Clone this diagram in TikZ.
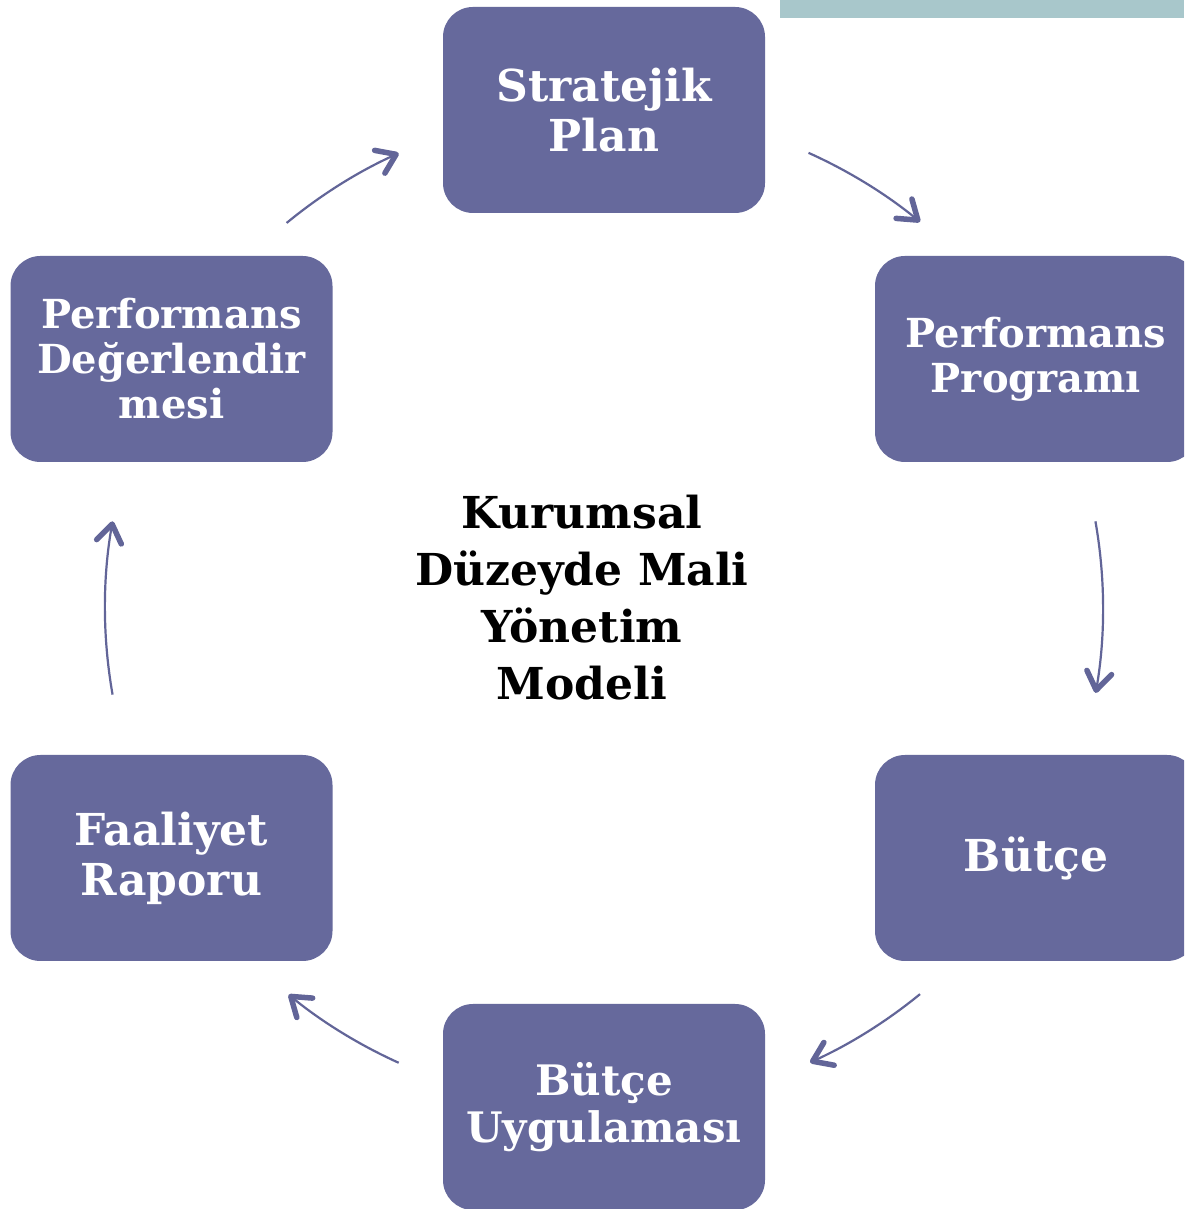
\documentclass[tikz,border=0pt]{standalone}
\usepackage{fontspec}
\setmainfont{DejaVu Serif}
\usetikzlibrary{arrows.meta}
\definecolor{boxc}{RGB}{102,105,156}
\definecolor{arrc}{RGB}{98,101,152}
\definecolor{tealc}{RGB}{168,199,203}
\tikzset{
  stepbox/.style={fill=boxc, draw=none, rounded corners=30pt, minimum width=322pt, minimum height=206pt, inner sep=0pt, text=white, align=center},
  fbig/.style={font=\fontsize{44pt}{50pt}\selectfont\bfseries},
  fmid/.style={font=\fontsize{42pt}{47pt}\selectfont\bfseries},
  fsmall/.style={font=\fontsize{40pt}{45pt}\selectfont\bfseries},
  cyc/.style={draw=arrc, line width=2.2pt, -{Straight Barb[length=18pt,width=25pt,line width=5.5pt,round]}}
}
\begin{document}
\begin{tikzpicture}[x=1pt,y=1pt]
\clip (0,0) rectangle (1184,1209);
\fill[white] (0,0) rectangle (1184,1209);
\fill[tealc] (780,1191) rectangle (1184,1209);
\node[stepbox,fbig] (sp) at (604,1099) {Stratejik\\Plan};
\node[stepbox,fsmall] (pp) at (1036,850) {Performans\\Programı};
\node[stepbox,fbig] (bu) at (1036,351) {Bütçe};
\node[stepbox,fmid] (bg) at (604,102) {Bütçe\\Uygulaması};
\node[stepbox,fbig] (fr) at (171.5,351) {Faaliyet\\Raporu};
\node[stepbox,fsmall] (pd) at (171.5,850) {Performans\\Değerlendir\\mesi};
\node[align=center, font=\fontsize{44pt}{57pt}\selectfont\bfseries] (ct) at (582,611) {Kurumsal\\Düzeyde Mali\\Yönetim\\Modeli};
\coordinate (C) at (604,601);
\path (C) ++(129.5:499pt) coordinate (a1s);
\path (C) ++(65.8:499pt) coordinate (a2s);
\path (C) ++(10:499pt) coordinate (a3s);
\path (C) ++(-50.7:499pt) coordinate (a4s);
\path (C) ++(-114.3:499pt) coordinate (a5s);
\path (C) ++(190:499pt) coordinate (a6s);
\draw[cyc] (a1s) arc[start angle=129.5, end angle=114.3, radius=499pt];
\draw[cyc] (a2s) arc[start angle=65.8, end angle=50.7, radius=499pt];
\draw[cyc] (a3s) arc[start angle=10, end angle=-9.8, radius=499pt];
\draw[cyc] (a4s) arc[start angle=-50.7, end angle=-65.6, radius=499pt];
\draw[cyc] (a5s) arc[start angle=-114.3, end angle=-129.2, radius=499pt];
\draw[cyc] (a6s) arc[start angle=190, end angle=170, radius=499pt];
\end{tikzpicture}
\end{document}
